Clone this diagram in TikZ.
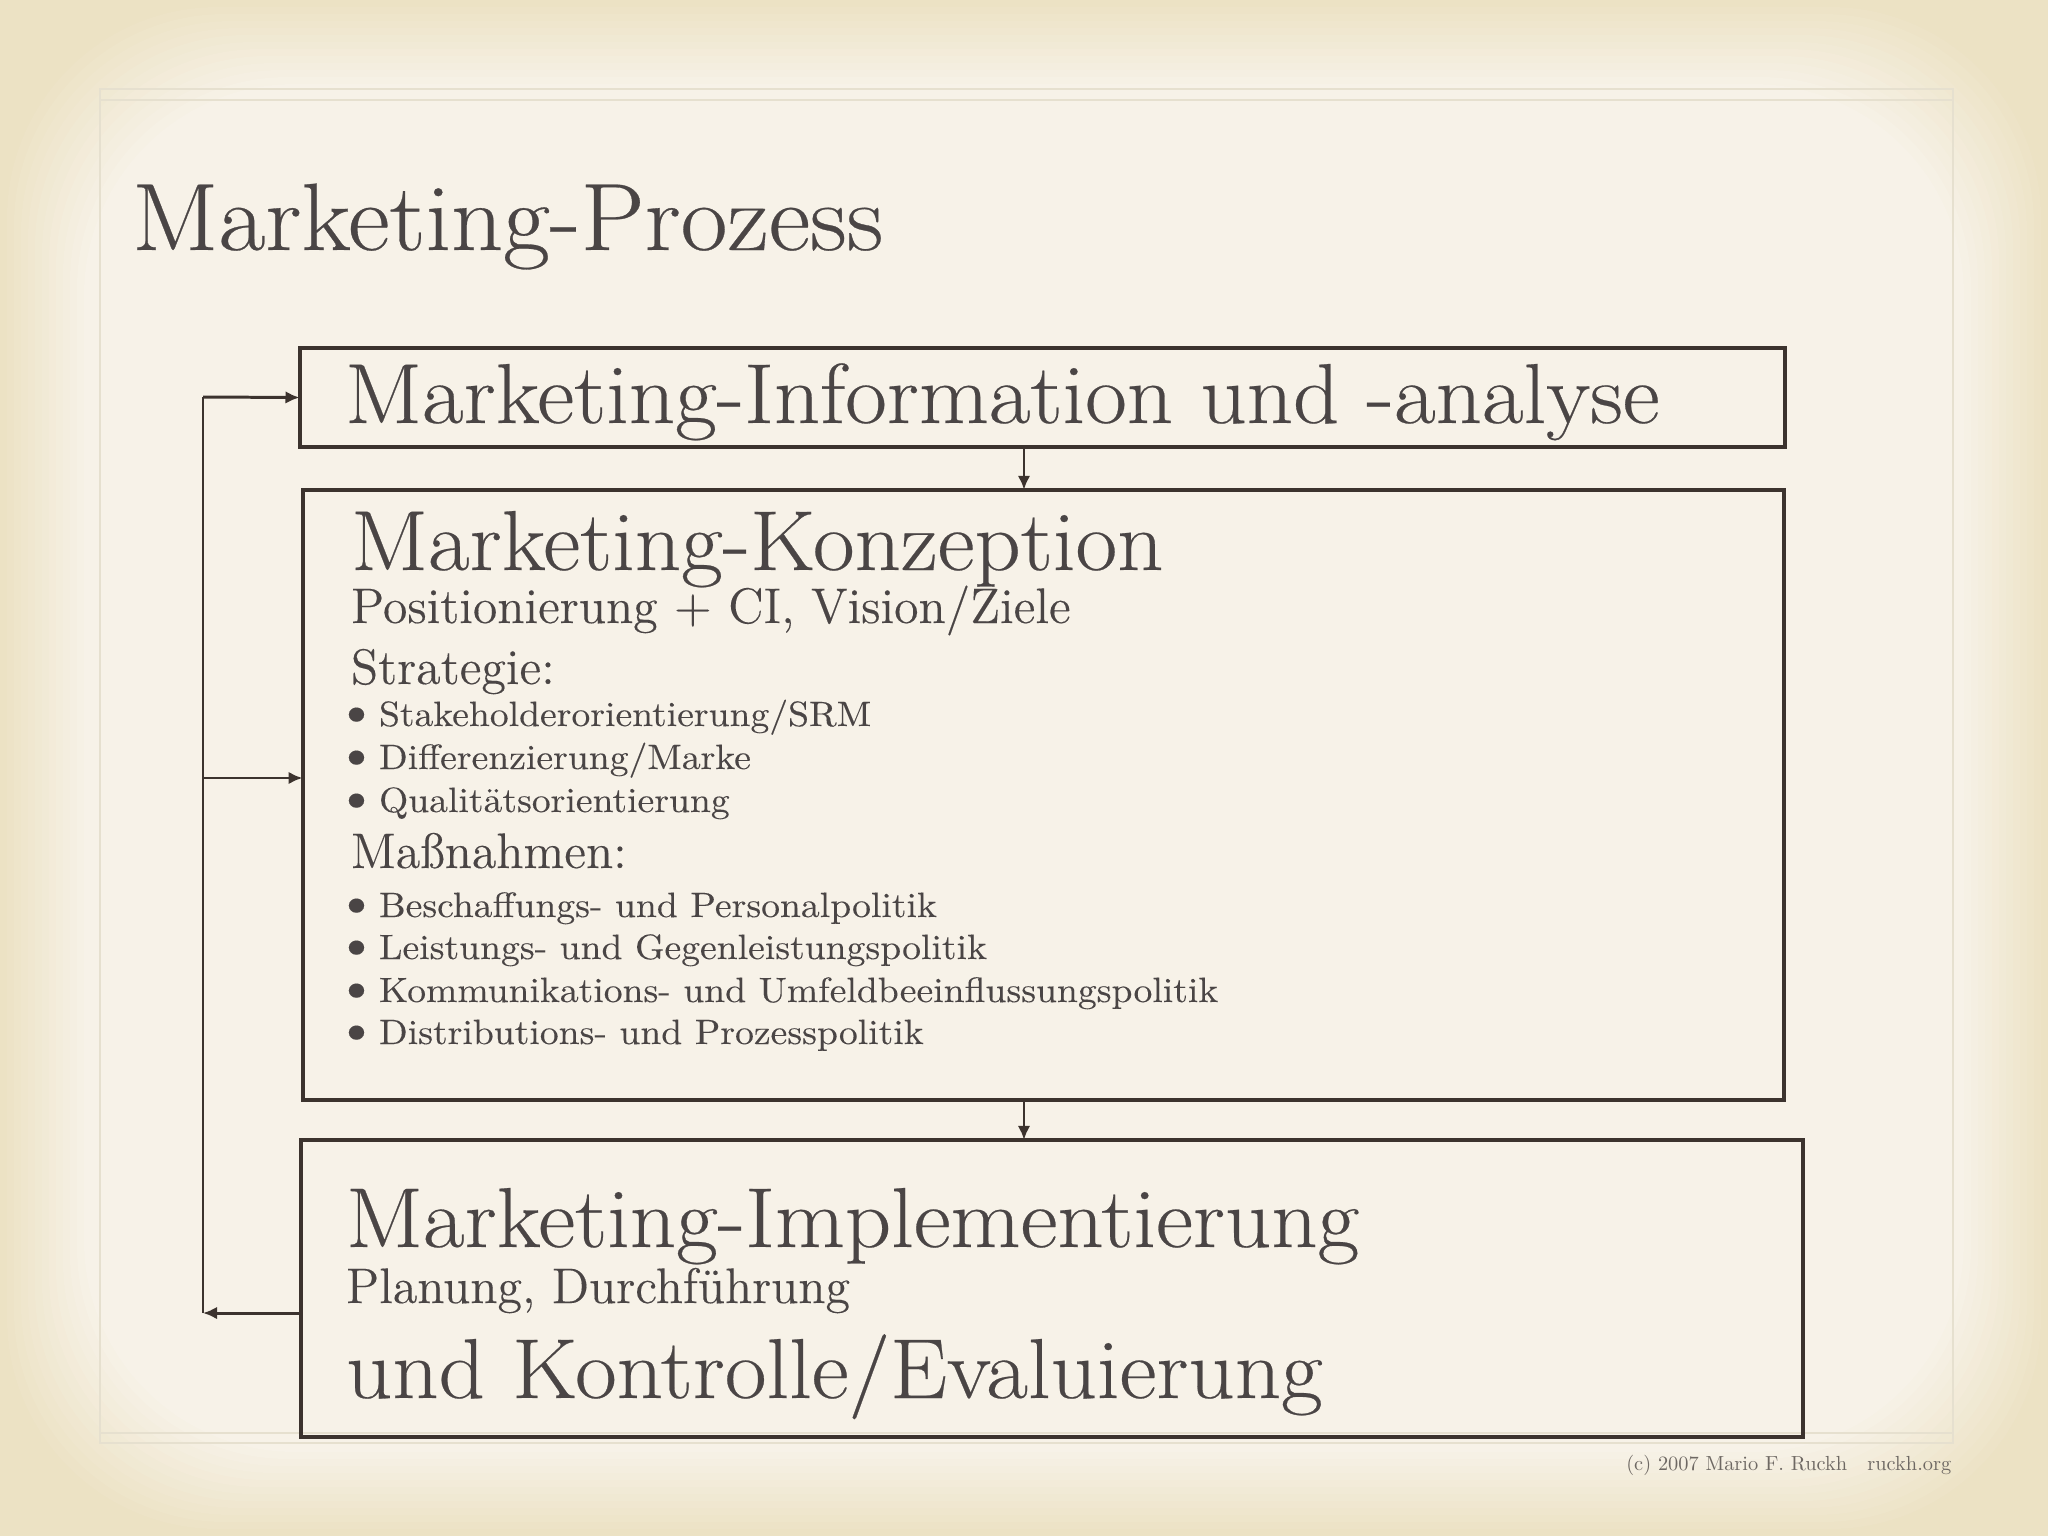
\documentclass[tikz,border=0pt]{standalone}
\usepackage{fontspec}
\usetikzlibrary{arrows.meta,calc}
\newfontfamily\bigfont{lmroman17-regular.otf}[FakeStretch=1.065,FakeBold=0.3]
\newfontfamily\midfont{lmroman12-regular.otf}[FakeBold=0.2]
\newfontfamily\smallfont{lmroman10-regular.otf}[FakeStretch=1.07,FakeBold=0.15]
\newfontfamily\copyfont{lmroman10-regular.otf}
\definecolor{bgouter}{HTML}{ECE2C4}
\definecolor{bginner}{HTML}{F7F2E8}
\definecolor{panelline}{HTML}{E6E0CF}
\definecolor{textc}{HTML}{4A4545}
\definecolor{linec}{HTML}{3C332E}
\definecolor{copyc}{HTML}{6E6863}
\newcommand{\bul}{\makebox[0.43cm][l]{\scalebox{1.4}{\textbullet}}}
\tikzset{
  boxst/.style={draw=linec, line width=1.15pt, inner sep=0pt, outer sep=0pt},
  conn/.style={draw=linec, line width=0.85pt},
  arr/.style={conn, -{Latex[length=4pt,width=3.6pt]}},
  txt/.style={anchor=base west, inner sep=0pt, outer sep=0pt, text=textc},
  huge/.style={txt, font=\bigfont\fontsize{24.2}{24.2}\selectfont},
  sub/.style={txt, font=\midfont\fontsize{14.2}{14.2}\selectfont},
  item/.style={txt, font=\smallfont\fontsize{10}{10}\selectfont},
}
\begin{document}
\begin{tikzpicture}[x=0.01cm,y=-0.01cm]
\useasboundingbox (0,0) rectangle (2048,1536);
% background vignette
\fill[bgouter] (0,0) rectangle (2048,1536);
\foreach \i in {1,...,12}{
  \pgfmathsetmacro{\d}{\i*7}
  \pgfmathsetmacro{\p}{\i*100/12}
  \colorlet{tmpc}{bginner!\p!bgouter}
  \fill[tmpc, rounded corners=60pt] (\d,\d) rectangle (2048-\d,1536-\d);
}
% panel border
\draw[panelline, line width=0.7pt] (100,89) rectangle (1953,1443);
\draw[panelline, line width=0.7pt] (100,100) -- (1953,100);
\draw[panelline, line width=0.7pt] (100,1433) -- (1953,1433);

% title
\node[txt, font=\bigfont\fontsize{27.2}{27.2}\selectfont] (title) at (132,250) {Marketing-Prozess};

% boxes
\node[boxst, minimum width=14.85cm, minimum height=0.99cm] (b1) at (1042.5,397.5) {};
\node[boxst, minimum width=14.81cm, minimum height=6.10cm] (b2) at (1043.5,795) {};
\node[boxst, minimum width=15.02cm, minimum height=2.97cm] (b3) at (1052,1288.5) {};

% box 1 text
\node[huge] (t1) at (345,423) {Marketing-Information und -analyse};

% box 2 text
\node[huge] (t2) at (351,570) {Marketing-Konzeption};
\node[sub] (t2a) at (351,623) {Positionierung + CI, Vision/Ziele};
\node[sub] (t2b) at (351,684) {Strategie:};
\node[item] (s1) at (336,726) {\bul Stakeholderorientierung/SRM};
\node[item] (s2) at (336,769) {\bul Differenzierung/Marke};
\node[item] (s3) at (336,812) {\bul Qualitätsorientierung};
\node[sub] (t2c) at (351,868) {Maßnahmen:};
\node[item] (m1) at (336,917) {\bul Beschaffungs- und Personalpolitik};
\node[item] (m2) at (336,959) {\bul Leistungs- und Gegenleistungspolitik};
\node[item] (m3) at (336,1002) {\bul Kommunikations- und Umfeldbeeinflussungspolitik};
\node[item] (m4) at (336,1044) {\bul Distributions- und Prozesspolitik};

% box 3 text
\node[huge] (t3) at (346,1247) {Marketing-Implementierung};
\node[sub] (t3a) at (346,1303) {Planung, Durchführung};
\node[huge] (t3b) at (346,1398) {und Kontrolle/Evaluierung};

% copyright
\node[anchor=base east, inner sep=0pt, text=copyc, font=\copyfont\fontsize{5.8}{5.8}\selectfont] (copy) at (1952,1470) {(c) 2007 Mario F. Ruckh\hspace{0.2cm}ruckh.org};

% connectors
\coordinate (lp) at (203,397);
\draw[arr] ([xshift=-0.185cm]b1.south) -- ([xshift=-0.185cm]b1.south |- b2.north);
\draw[arr] ([xshift=-0.195cm]b2.south) -- ([xshift=-0.195cm]b2.south |- b3.north);
\coordinate (lb) at ([yshift=-0.245cm]b3.west);
\draw[arr] (lb) -- (lb -| lp);
\draw[conn] (lb -| lp) -- (lp);
\draw[arr] (lp) -- (b1.west);
\coordinate (br) at ([yshift=0.17cm]b2.west);
\draw[arr] (br -| lp) -- (br);
\end{tikzpicture}
\end{document}
